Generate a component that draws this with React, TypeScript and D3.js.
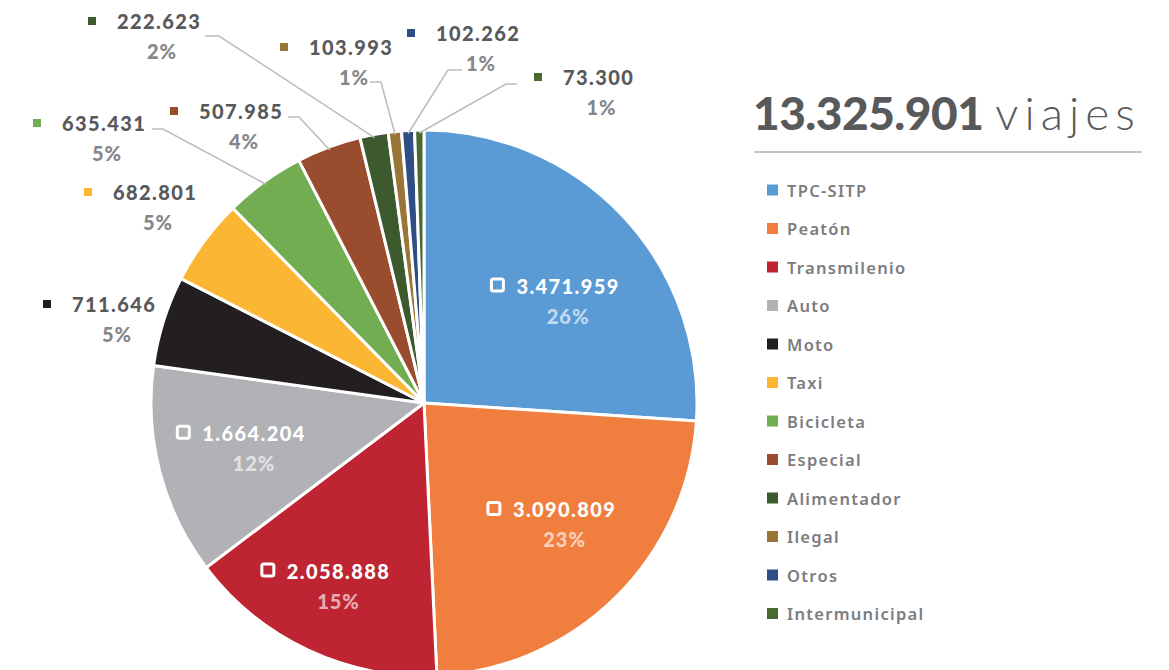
import React from 'react';
import * as d3 from 'd3';

// viajes diarios por modo
const categories = ['TPC-SITP', 'Peatón', 'Transmilenio', 'Auto', 'Moto', 'Taxi', 'Bicicleta', 'Especial', 'Alimentador', 'Ilegal', 'Otros', 'Intermunicipal'];
const trips = [3471959, 3090809, 2058888, 1664204, 711646, 682801, 635431, 507985, 222623, 103993, 102262, 73300];
const colors = ['#5a9bd5', '#f07f3f', '#be2431', '#b1b2b5', '#231f20', '#fbb733', '#73ad52', '#9a4c2e', '#3c5a2d', '#9a7538', '#2e4e85', '#486a30'];

// nudges for the labels drawn inside the big slices
const insideNudge = {
	'TPC-SITP': [-3, 24],
	'Peatón': [-1, -11],
	'Transmilenio': [-19, 15],
	'Auto': [-3, -2],
};

// callout placement for the small slices (marker centre) and leader elbows
const callouts = {
	'Moto': { at: [47, 304] },
	'Taxi': { at: [88, 192] },
	'Bicicleta': { at: [37, 123], leader: [[152, 129], [163, 129]] },
	'Especial': { at: [174, 111], leader: [[288, 117], [299, 117]] },
	'Alimentador': { at: [92, 21], leader: [[205, 36], [219, 36]] },
	'Ilegal': { at: [284, 47], leader: [[370, 82], [381, 82]] },
	'Otros': { at: [411, 33], leader: [[462, 70], [448, 70]] },
	'Intermunicipal': { at: [538, 77], leader: [[517, 84], [506, 84]] },
};

const W = 1169, H = 670;
const cx = 424, cy = 403, R = 273;

const locale = d3.formatLocale({ decimal: ',', thousands: '.', grouping: [3], currency: ['$', ''] });
const fmt = locale.format(',');
const total = d3.sum(trips);

const NUM_FONT = 'Lato, sans-serif';

let ctx = null;
const measure = (txt, font) => {
	if (!ctx) ctx = document.createElement('canvas').getContext('2d');
	ctx.font = font;
	return ctx.measureText(txt).width;
};

export default function App() {
	const data = categories.map((c, i) => ({ name: c, value: trips[i], color: colors[i] }));
	const pie = d3.pie().sort(null).value(d => d.value);
	const arcs = pie(data);
	const arc = d3.arc().innerRadius(0).outerRadius(R);
	const labelArc = d3.arc().innerRadius(185 * 2 - R).outerRadius(R);
	const edgeArc = d3.arc().innerRadius(R - 3).outerRadius(R - 3);

	const pct = v => Math.round(v / total * 100) + '%';
	const numFont = `900 20px ${NUM_FONT}`;
	const ls = 1.4;

	return (
		<svg width={W} height={H} style={{ position: 'absolute', left: 0, top: 0, background: '#fff' }}>
			<g transform={`translate(${cx},${cy})`}>
				{arcs.map(a => (
					<path key={a.data.name} d={arc(a)} fill={a.data.color} stroke="#fff" strokeWidth={3} strokeLinejoin="round" />
				))}
				{arcs.filter(a => insideNudge[a.data.name]).map(a => {
					const [dx, dy] = insideNudge[a.data.name];
					const [x0, y0] = labelArc.centroid(a);
					const x = x0 + dx, y = y0 + dy;
					const label = fmt(a.data.value);
					const w = measure(label, numFont) + label.length * ls;
					const left = x - (w + 26) / 2;
					return (
						<g key={a.data.name}>
							<rect x={left} y={y - 21.5} width={12} height={12} rx={2} fill="none" stroke="#fff" strokeWidth={3} />
							<text x={left + 25} y={y - 15} dominantBaseline="central" fill="#fff" fontFamily={NUM_FONT} fontWeight={900} fontSize={20} letterSpacing={ls}>{label}</text>
							<text x={left + 25 + w / 2} y={y + 15} dominantBaseline="central" textAnchor="middle" fill="#fff" fillOpacity={0.65} fontFamily={NUM_FONT} fontWeight={900} fontSize={20} letterSpacing={1}>{pct(a.data.value)}</text>
						</g>
					);
				})}
			</g>

			{arcs.filter(a => callouts[a.data.name]).map(a => {
				const c = callouts[a.data.name];
				const [mx, my] = c.at;
				const label = fmt(a.data.value);
				const w = measure(label, numFont) + label.length * ls;
				let leader = null;
				if (c.leader) {
					const [ex, ey] = edgeArc.centroid(a);
					const pts = [...c.leader, [cx + ex, cy + ey]];
					leader = <path d={d3.line()(pts)} fill="none" stroke="#bdbdbd" strokeWidth={1.6} />;
				}
				return (
					<g key={a.data.name}>
						{leader}
						<rect x={mx - 4} y={my - 4} width={8} height={8} fill={a.data.color} />
						<text x={mx + 25} y={my} dominantBaseline="central" fill="#58595b" fontFamily={NUM_FONT} fontWeight={900} fontSize={20} letterSpacing={ls}>{label}</text>
						<text x={mx + 25 + w / 2 + 3} y={my + 30} dominantBaseline="central" textAnchor="middle" fill="#86868a" fontFamily={NUM_FONT} fontWeight={900} fontSize={20} letterSpacing={1}>{pct(a.data.value)}</text>
					</g>
				);
			})}

			<text x={753} y={130} fill="#58595b" fontFamily={NUM_FONT} fontSize={46}>
				<tspan fontWeight={900} letterSpacing={-0.5}>{fmt(total)}</tspan>
				<tspan fontWeight={300} dx={12} letterSpacing={6}>viajes</tspan>
			</text>
			<line x1={754} x2={1142} y1={152} y2={152} stroke="#c4c4c4" strokeWidth={2} />

			<g>
				{data.map((d, i) => {
					const y = 190 + i * 38.5;
					return (
						<g key={d.name}>
							<rect x={767} y={y - 5.5} width={11} height={11} fill={d.color} />
							<text x={787} y={y} dominantBaseline="central" fill="#7c7c7f" fontFamily="'Noto Sans', sans-serif" fontWeight={600} fontSize={16.5} letterSpacing={1.3}>{d.name}</text>
						</g>
					);
				})}
			</g>
		</svg>
	);
}
